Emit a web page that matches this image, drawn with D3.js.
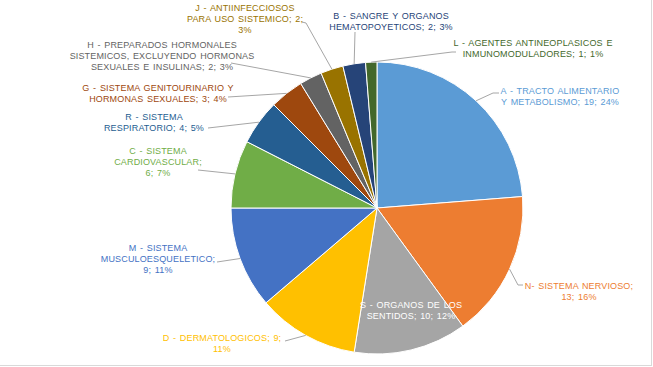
<!DOCTYPE html>
<html>
<head>
<meta charset="utf-8">
<script src="https://cdn.jsdelivr.net/npm/d3@7"></script>
<style>
  html, body { margin: 0; padding: 0; background: #fff; }
  svg { display: block; }
  text { font-family: "Liberation Sans", Arial, sans-serif; }
</style>
</head>
<body>
<svg id="chart" width="653" height="367"></svg>
<script>
// ---- data ----
const categories = [
  "A - TRACTO ALIMENTARIO Y METABOLISMO",
  "N- SISTEMA NERVIOSO",
  "S - ORGANOS DE LOS SENTIDOS",
  "D - DERMATOLOGICOS",
  "M - SISTEMA MUSCULOESQUELETICO",
  "C - SISTEMA CARDIOVASCULAR",
  "R - SISTEMA RESPIRATORIO",
  "G - SISTEMA GENITOURINARIO Y HORMONAS SEXUALES",
  "H - PREPARADOS HORMONALES SISTEMICOS, EXCLUYENDO HORMONAS SEXUALES E INSULINAS",
  "J - ANTIINFECCIOSOS PARA USO SISTEMICO",
  "B - SANGRE Y ORGANOS HEMATOPOYETICOS",
  "L - AGENTES ANTINEOPLASICOS E INMUNOMODULADORES"
];
const values = [19, 13, 10, 9, 9, 6, 4, 3, 2, 2, 2, 1];
const percents = [24, 16, 12, 11, 11, 7, 5, 4, 3, 3, 3, 1];

// ---- styles / layout ----
const colors = ["#5B9BD5", "#ED7D31", "#A5A5A5", "#FFC000", "#4472C4", "#70AD47",
                "#255E91", "#9E480E", "#636363", "#997300", "#264478", "#43682B"];
const labelColors = ["#5B9BD5", "#ED7D31", "#FFFFFF", "#FFC000", "#4472C4", "#70AD47",
                "#255E91", "#9E480E", "#636363", "#997300", "#264478", "#43682B"];
// label layout: center x, first-line center y, word breaks, leader points (label side)
const labelLayout = [
  {x: 560, y: 91,  breaks: [4],    leader: [[493, 93], [499, 93]]},
  {x: 579, y: 286, breaks: [3],    leader: [[518, 285], [523, 285]]},
  {x: 411, y: 305, breaks: [5],    leader: null},
  {x: 222, y: 338, breaks: [4],    leader: [[285, 341]]},
  {x: 158, y: 248, breaks: [3, 4], leader: [[217, 262]]},
  {x: 158, y: 151, breaks: [3, 4], leader: [[198, 170]]},
  {x: 154, y: 117, breaks: [3],    leader: [[208, 128]]},
  {x: 158, y: 88,  breaks: [5],    leader: [[228, 97]]},
  {x: 162, y: 45,  breaks: [4, 7], leader: [[231, 63]]},
  {x: 245, y: 8,   breaks: [3, 7], leader: [[306, 23], [302, 22]]},
  {x: 391, y: 16,  breaks: [5],    leader: [[355, 32]]},
  {x: 533, y: 43,  breaks: [5],    leader: [[452, 52], [456, 52]]}
];

const W = 653, H = 367;
const cx = 377, cy = 208, R = 146;
const lineH = 11;

const svg = d3.select("#chart");

// outer chart border
svg.append("rect")
  .attr("x", -1).attr("y", -1)
  .attr("width", 652.5).attr("height", 366.5)
  .attr("fill", "#fff")
  .attr("stroke", "#D9D9D9").attr("stroke-width", 1);

const data = categories.map((c, i) => ({cat: c, value: values[i], pct: percents[i], i}));

const pie = d3.pie().sort(null).value(d => d.value).startAngle(0).endAngle(2 * Math.PI);
const arcs = pie(data);
const arc = d3.arc().innerRadius(0).outerRadius(R);

const g = svg.append("g").attr("transform", `translate(${cx},${cy})`);
g.selectAll("path.slice")
  .data(arcs)
  .join("path")
  .attr("class", "slice")
  .attr("d", arc)
  .attr("fill", d => colors[d.data.i])
  .attr("stroke", "#fff")
  .attr("stroke-width", 1);

// leader lines
const line = d3.line();
arcs.forEach(a => {
  const L = labelLayout[a.data.i];
  if (!L.leader) return;
  const mid = (a.startAngle + a.endAngle) / 2;
  const edge = [cx + R * Math.sin(mid), cy - R * Math.cos(mid)];
  const pts = [edge].concat(L.leader);
  svg.append("path")
    .attr("d", line(pts))
    .attr("fill", "none")
    .attr("stroke", "#A6A6A6")
    .attr("stroke-width", 1);
});

// labels
arcs.forEach(a => {
  const d = a.data;
  const L = labelLayout[d.i];
  const words = `${d.cat}; ${d.value}; ${d.pct}%`.split(" ");
  const lines = [];
  let start = 0;
  L.breaks.concat([words.length]).forEach(b => {
    lines.push(words.slice(start, b).join(" "));
    start = b;
  });
  const t = svg.append("text")
    .attr("text-anchor", "middle")
    .attr("font-size", 9)
    .attr("letter-spacing", "0.15px")
    .attr("word-spacing", "1px")
    .attr("fill", labelColors[d.i]);
  lines.forEach((ln, k) => {
    t.append("tspan")
      .attr("x", L.x)
      .attr("y", L.y + k * lineH)
      .attr("dy", "0.35em")
      .text(ln);
  });
});
</script>
</body>
</html>
